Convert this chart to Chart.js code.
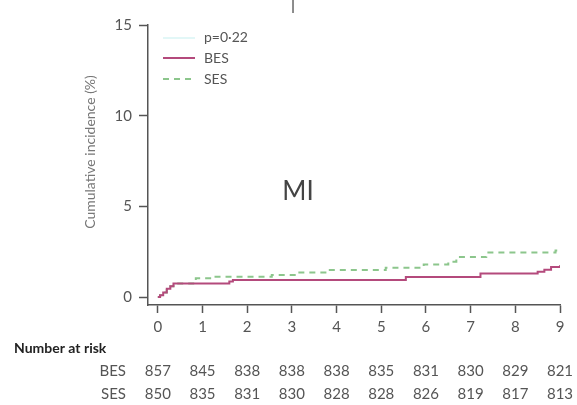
<!DOCTYPE html>
<html>
<head>
<meta charset="utf-8">
<script src="https://cdn.jsdelivr.net/npm/chart.js@4.4.1/dist/chart.umd.min.js"></script>
<style>
  html, body { margin: 0; padding: 0; background: #fff; }
  #wrap { width: 577px; height: 405px; position: relative; }
</style>
</head>
<body>
<div id="wrap"><canvas id="miChart" width="577" height="405"></canvas></div>
<script>
// Data
const years = [0, 1, 2, 3, 4, 5, 6, 7, 8, 9];
const yTicks = [0, 5, 10, 15];

const besTime = [0, 0.05, 0.12, 0.2, 0.28, 0.35, 1.6, 1.68, 5.55, 7.22, 8.5, 8.65, 8.8, 9];
const besCum  = [0, 0.1, 0.25, 0.45, 0.6, 0.75, 0.85, 0.94, 1.1, 1.3, 1.4, 1.5, 1.65, 1.75];

const sesTime = [0, 0.05, 0.12, 0.2, 0.28, 0.35, 0.85, 1.2, 2.55, 3.1, 3.75, 5.1, 5.95, 6.5, 6.68, 7.35, 8.9, 9];
const sesCum  = [0, 0.1, 0.25, 0.45, 0.6, 0.75, 1.03, 1.12, 1.22, 1.35, 1.49, 1.62, 1.8, 1.95, 2.2, 2.45, 2.57, 2.6];

const riskGroups = ['BES', 'SES'];
const riskBES = [857, 845, 838, 838, 838, 835, 831, 830, 829, 821];
const riskSES = [850, 835, 831, 830, 828, 828, 826, 819, 817, 813];

const pLabel = 'p=0·22';
const panelLabel = 'MI';
const yTitle = 'Cumulative incidence (%)';

const FONT = 'Lato, "Open Sans", sans-serif';
const BES_COLOR = '#b44a7c';
const SES_COLOR = '#8cc68c';
const AXIS_COLOR = '#555';

function toPoints(xs, ys) {
  return xs.map((x, i) => ({ x: x, y: ys[i] }));
}

// Draws the extra text: legend, panel label, y title, number-at-risk table
const extrasPlugin = {
  id: 'extras',
  afterDraw(chart) {
    const ctx = chart.ctx;
    const xScale = chart.scales.x;
    ctx.save();

    // top mark
    ctx.fillStyle = '#333';
    ctx.font = '16px ' + FONT;
    ctx.textAlign = 'center';
    ctx.textBaseline = 'middle';
    ctx.fillText('|', 293, 5);

    // y axis title
    ctx.save();
    ctx.translate(90, 152);
    ctx.rotate(-Math.PI / 2);
    ctx.fillStyle = '#777';
    ctx.font = '14px ' + FONT;
    ctx.fillText(yTitle, 0, 0);
    ctx.restore();

    // panel label
    ctx.fillStyle = '#444';
    ctx.font = '26px ' + FONT;
    ctx.fillText(panelLabel, 298, 192);

    // legend
    ctx.font = '14px ' + FONT;
    ctx.textAlign = 'left';
    ctx.lineWidth = 2;
    ctx.strokeStyle = '#e2f7f7';
    ctx.beginPath(); ctx.moveTo(163, 38); ctx.lineTo(195, 38); ctx.stroke();
    ctx.fillStyle = '#555';
    ctx.fillText(pLabel, 204, 37);
    chart.data.datasets.forEach((ds, i) => {
      const y = 58 + i * 21;
      ctx.strokeStyle = ds.borderColor;
      ctx.setLineDash(ds.borderDash || []);
      ctx.beginPath(); ctx.moveTo(163, y); ctx.lineTo(195, y); ctx.stroke();
      ctx.setLineDash([]);
      ctx.fillStyle = '#555';
      ctx.fillText(ds.label, 204, y);
    });

    // number at risk
    ctx.fillStyle = '#222';
    ctx.font = 'bold 14px ' + FONT;
    ctx.fillText('Number at risk', 14, 348);
    ctx.font = '15px ' + FONT;
    ctx.fillStyle = '#555';
    [riskBES, riskSES].forEach((row, r) => {
      const y = 371 + r * 23;
      ctx.textAlign = 'right';
      ctx.fillText(riskGroups[r], 126, y);
      ctx.textAlign = 'center';
      row.forEach((n, i) => {
        ctx.fillText(String(n), xScale.getPixelForValue(years[i]), y);
      });
    });
    ctx.restore();
  }
};

const chart = new Chart(document.getElementById('miChart'), {
  type: 'line',
  data: {
    datasets: [{
      label: 'BES',
      data: toPoints(besTime, besCum),
      borderColor: BES_COLOR,
      borderWidth: 2,
      stepped: 'before',
      pointRadius: 0,
      fill: false
    }, {
      label: 'SES',
      data: toPoints(sesTime, sesCum),
      borderColor: SES_COLOR,
      borderWidth: 2,
      borderDash: [6, 5],
      stepped: 'before',
      pointRadius: 0,
      fill: false
    }]
  },
  options: {
    responsive: false,
    animation: false,
    layout: { padding: { left: 0, right: 17, top: 25, bottom: 0 } },
    plugins: {
      legend: { display: false },
      tooltip: { enabled: false }
    },
    scales: {
      x: {
        type: 'linear',
        min: -0.22,
        max: 9,
        afterBuildTicks: scale => { scale.ticks = years.map(v => ({ value: v })); },
        afterFit: scale => { scale.height = 100; },
        grid: { display: true, drawOnChartArea: false, drawTicks: true, tickLength: 8, color: AXIS_COLOR, tickWidth: 1.5 },
        border: { display: true, color: AXIS_COLOR, width: 1.5 },
        ticks: { color: '#555', font: { family: FONT, size: 15 }, padding: 5, maxRotation: 0 }
      },
      y: {
        min: -0.44,
        max: 15,
        afterBuildTicks: scale => { scale.ticks = yTicks.map(v => ({ value: v })); },
        afterFit: scale => { scale.width = 148; },
        grid: { display: true, drawOnChartArea: false, drawTicks: true, tickLength: 9, color: AXIS_COLOR, tickWidth: 1.5 },
        border: { display: true, color: AXIS_COLOR, width: 1.5 },
        ticks: { color: '#555', font: { family: FONT, size: 15 }, padding: 7 }
      }
    }
  },
  plugins: [extrasPlugin]
});
</script>
</body>
</html>
